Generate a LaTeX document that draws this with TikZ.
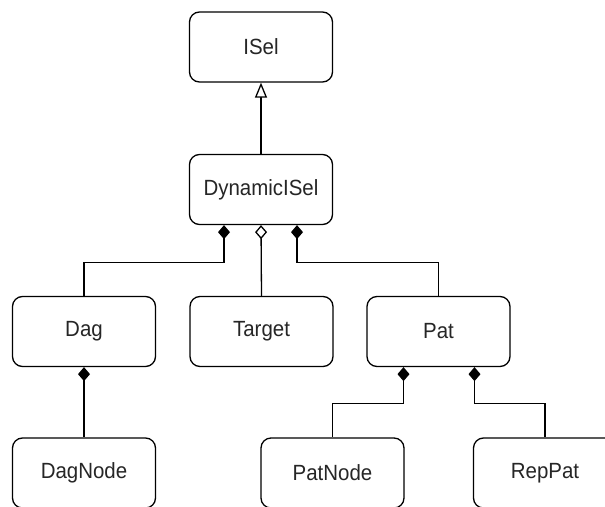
\documentclass[tikz,border=0pt]{standalone}
\usepackage{fontspec}
\setmainfont{Liberation Sans}[FakeStretch=0.93]
\usetikzlibrary{arrows.meta}
\begin{document}
\begin{tikzpicture}[x=1pt,y=-1pt,
  cls/.style={draw=black, line width=1.3pt, rounded corners=10pt, fill=white,
    minimum width=143pt, minimum height=70pt, inner sep=0pt,
    font=\fontsize{22}{26}\selectfont, text=black!85},
  link/.style={draw=black, line width=1.3pt},
  comp/.style={link, {Diamond[length=14pt,width=12pt,fill=black]}-},
  aggr/.style={link, {Diamond[length=14pt,width=12pt,open,fill=white]}-},
  inh/.style={link, -{Triangle[length=15pt,width=12pt,open,fill=white]}}]
\useasboundingbox (0,0) rectangle (605,506);
\clip (0,0) rectangle (605,506);

% class boxes
\node[cls] (isel)     at (261,47)    {ISel};
\node[cls] (dyn)      at (261,189.5) {DynamicISel};
\node[cls] (dag)      at (84,331.5)  {Dag};
\node[cls] (target)   at (261.5,331.5) {Target};
\node[cls] (pat)      at (438.5,331.5) {Pat};
\node[cls] (dagnode)  at (84,473)    {DagNode};
\node[cls] (patnode)  at (332.5,473) {PatNode};
\node[cls] (reppat)   at (545,473)   {RepPat};

% generalisation
\draw[inh] (dyn.north) -- (isel.south);

% compositions and aggregation of DynamicISel
\draw[comp] ([xshift=-37pt]dyn.south) -- ++(0,37) -| (dag.north);
\draw[aggr] (dyn.south) -- (target.north);
\draw[comp] ([xshift=36pt]dyn.south) -- ++(0,37) -| (pat.north);

% lower compositions
\draw[comp] (dag.south) -- (dagnode.north);
\draw[comp] ([xshift=-35pt]pat.south) -- ++(0,36) -| (patnode.north);
\draw[comp] ([xshift=36pt]pat.south) -- ++(0,36) -| (reppat.north);
\end{tikzpicture}
\end{document}
